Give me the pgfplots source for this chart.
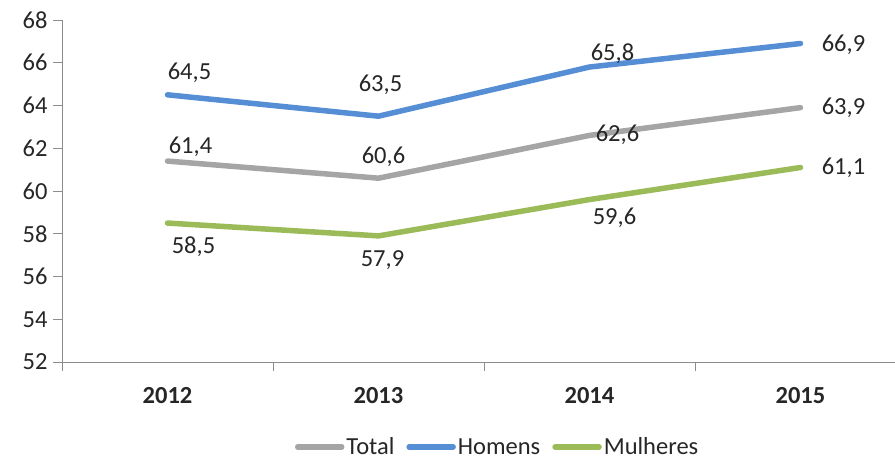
\documentclass[border=0pt]{standalone}
\usepackage{pgfplots}
\pgfplotsset{compat=1.18}
\usepackage{pgfplotstable}
\usepackage{fontspec}
\setmainfont{Carlito}

\definecolor{cTotal}{HTML}{A5A5A5}
\definecolor{cHomens}{HTML}{558ED5}
\definecolor{cMulheres}{HTML}{9BBB59}
\definecolor{axisgray}{HTML}{8C8C8C}
\definecolor{txt}{HTML}{262626}

% x = year index, dx/dy = label offset from the point (pt)
\pgfplotstableread{
x y lab dx dy
0 61.4 61,4 23 14
1 60.6 60,6 5 21
2 62.6 62,6 28 1
3 63.9 63,9 43 0
}\total
\pgfplotstableread{
x y lab dx dy
0 64.5 64,5 22 22
1 63.5 63,5 2 31
2 65.8 65,8 23 13
3 66.9 66,9 43 -1
}\homens
\pgfplotstableread{
x y lab dx dy
0 58.5 58,5 26 -24
1 57.9 57,9 4 -24
2 59.6 59,6 25 -18
3 61.1 61,1 43 0
}\mulheres

\newcommand\lblfont{\fontsize{24.5}{29}\selectfont}

\pgfplotsset{
  serie/.style={
    color=#1, line width=5.5pt, line cap=round, line join=round, mark=none,
    nodes near coords, point meta=explicit symbolic,
    visualization depends on={\thisrow{dx}\as\dx},
    visualization depends on={\thisrow{dy}\as\dy},
    every node near coord/.append style={anchor=center, xshift=\dx pt,
      yshift=\dy pt, text=txt, font=\lblfont},
  },
}

\begin{document}
\begin{tikzpicture}
\begin{axis}[
    name=ax,
    scale only axis,
    width=833pt, height=342pt,
    xmin=-0.5, xmax=3.448,
    ymin=52, ymax=68,
    ytick={52,54,...,68},
    xtick={0,1,2,3},
    xticklabels={2012,2013,2014,2015},
    minor xtick={-0.5,0.5,1.5,2.5},
    major x tick style={draw=none},
    axis x line*=bottom, axis y line*=left,
    axis line style={draw=axisgray, line width=0.8pt},
    tick style={draw=axisgray, line width=0.8pt},
    tick align=outside,
    major tick length=9pt, minor tick length=9pt,
    /pgf/number format/assume math mode=true,
    ticklabel style={text=txt, font=\lblfont},
    yticklabel style={xshift=-2pt},
    xticklabel style={font=\bfseries\lblfont, yshift=-13pt},
    clip=false,
    legend columns=3,
    legend style={draw=none, fill=none, at={(0.523,-0.2485)}, anchor=center,
      font=\lblfont, text=txt, inner xsep=0pt,
      /tikz/every even column/.append style={column sep=10pt}},
    legend image code/.code={\draw[#1, line width=5.5pt, line cap=round]
      (0pt,0pt) -- (44pt,0pt);},
]
\addplot[serie=cTotal] table[x=x, y=y, meta=lab] {\total};
\addlegendentry{Total}
\addplot[serie=cHomens] table[x=x, y=y, meta=lab] {\homens};
\addlegendentry{Homens}
\addplot[serie=cMulheres] table[x=x, y=y, meta=lab] {\mulheres};
\addlegendentry{Mulheres}
\end{axis}
\pgfresetboundingbox
\path[use as bounding box] ([shift={(-62pt,-99pt)}]ax.south west)
  rectangle ([shift={(833pt,362pt)}]ax.south west);
\end{tikzpicture}
\end{document}
